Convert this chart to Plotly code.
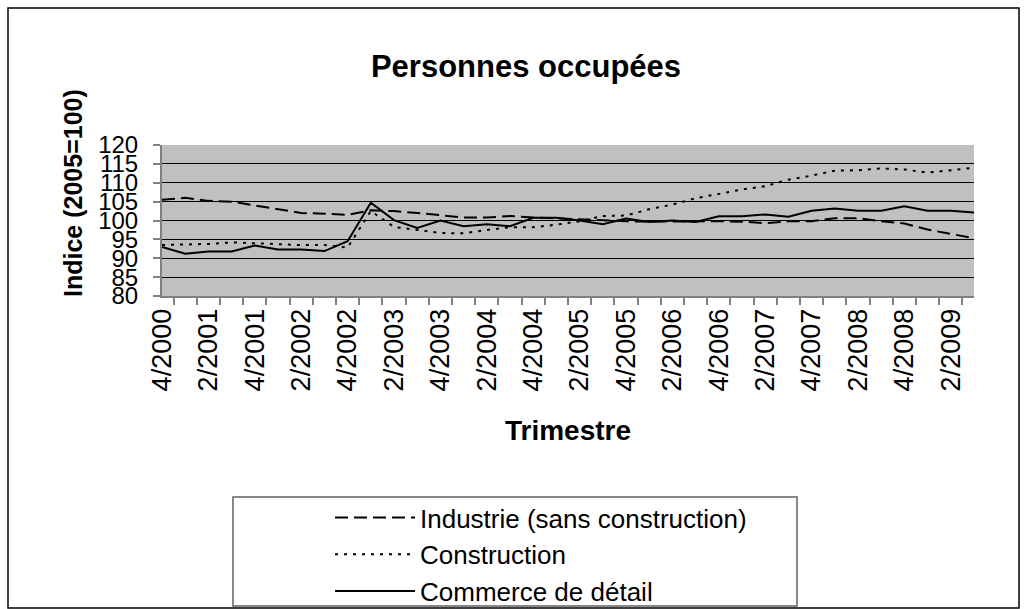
import plotly.graph_objects as go

quarters = ["4/2000",
            "1/2001", "2/2001", "3/2001", "4/2001",
            "1/2002", "2/2002", "3/2002", "4/2002",
            "1/2003", "2/2003", "3/2003", "4/2003",
            "1/2004", "2/2004", "3/2004", "4/2004",
            "1/2005", "2/2005", "3/2005", "4/2005",
            "1/2006", "2/2006", "3/2006", "4/2006",
            "1/2007", "2/2007", "3/2007", "4/2007",
            "1/2008", "2/2008", "3/2008", "4/2008",
            "1/2009", "2/2009", "3/2009"]

industrie = [105.5,
             106.0, 105.2, 105.0, 104.0,
             103.0, 102.0, 101.8, 101.5,
             102.7, 102.5, 102.0, 101.3,
             100.8, 100.8, 101.2, 100.8,
             100.5, 100.2, 100.0, 99.8,
             99.7, 99.8, 99.8, 99.8,
             99.7, 99.3, 99.8, 99.8,
             100.6, 100.6, 99.8, 99.2,
             97.6, 96.5, 95.3]

construction = [93.5,
                93.7, 93.8, 94.2, 94.0,
                93.8, 93.5, 93.5, 92.8,
                102.5, 98.3, 97.5, 96.7,
                96.6, 97.5, 98.2, 98.2,
                98.9, 99.8, 101.2, 101.3,
                103.0, 104.2, 105.9, 107.1,
                108.2, 109.1, 110.8, 111.9,
                113.2, 113.3, 113.8, 113.5,
                112.7, 113.3, 114.0]

commerce = [93.0,
            91.2, 91.8, 91.8, 93.4,
            92.3, 92.3, 91.9, 94.5,
            104.7, 100.1, 98.0, 100.0,
            98.5, 99.0, 98.5, 100.7,
            100.7, 100.0, 99.0, 100.5,
            99.6, 100.0, 99.6, 101.1,
            101.1, 101.6, 101.0, 102.6,
            103.2, 102.6, 102.6, 103.8,
            102.6, 102.6, 102.1]

y_ticks = [80, 85, 90, 95, 100, 105, 110, 115, 120]

FONT = "Arial, Liberation Sans, sans-serif"
W, H = 1027, 609
L, R, T, B = 162, 974, 145, 296  # plot area in pixels

tick_text = [q if i % 2 == 0 else "" for i, q in enumerate(quarters)]

fig = go.Figure()
fig.add_trace(go.Scatter(x=quarters, y=industrie, mode="lines",
                         name="Industrie (sans construction)",
                         line=dict(color="black", width=2, dash="13px,6px")))
fig.add_trace(go.Scatter(x=quarters, y=construction, mode="lines",
                         name="Construction",
                         line=dict(color="black", width=2, dash="3px,6px")))
fig.add_trace(go.Scatter(x=quarters, y=commerce, mode="lines",
                         name="Commerce de détail",
                         line=dict(color="black", width=2)))


def px_x(p):
    return (p - L) / (R - L)


def px_y(p):
    return (B - p) / (B - T)


fig.update_layout(
    width=W, height=H, autosize=False,
    margin=dict(l=L, r=W - R, t=T, b=H - B, pad=0, autoexpand=False),
    paper_bgcolor="white",
    plot_bgcolor="#C0C0C0",
    font=dict(family=FONT, color="black"),
    title=dict(text="<b>Personnes occupées</b>", font=dict(size=31, family=FONT),
               x=526 / W, xref="container", xanchor="center",
               y=1 - 66 / H, yref="container", yanchor="middle"),
    xaxis=dict(
        type="category", automargin=False,
        tickmode="array", tickvals=quarters, ticktext=tick_text,
        tickson="boundaries", ticks="outside", ticklen=7, tickcolor="#808080",
        tickwidth=1.5,
        tickangle=-90, tickfont=dict(size=27, family=FONT),
        showline=True, linecolor="#808080", linewidth=2,
        showgrid=False, zeroline=False,
        title=dict(text="<b>Trimestre</b>", font=dict(size=28, family=FONT), standoff=30),
    ),
    yaxis=dict(
        range=[80, 120], tickmode="array", tickvals=y_ticks, automargin=False,
        ticks="outside", ticklen=7, tickcolor="#808080", tickwidth=1.5,
        tickfont=dict(size=24, family=FONT), ticklabelstandoff=10,
        showline=True, linecolor="#808080", linewidth=2,
        showgrid=True, gridcolor="black", gridwidth=1,
        zeroline=False,
    ),
    legend=dict(
        x=px_x(330), y=px_y(494), xanchor="left", yanchor="top",
        bgcolor="rgba(0,0,0,0)", borderwidth=0,
        font=dict(size=26, family=FONT),
        itemwidth=80, tracegroupgap=0,
    ),
    showlegend=True,
)

# y-axis title (placed a little above the plot's centre, as in the reference)
fig.add_annotation(text="<b>Indice (2005=100)</b>", textangle=-90,
                   xref="paper", yref="paper", x=px_x(73), y=px_y(193),
                   xanchor="center", yanchor="middle", showarrow=False,
                   font=dict(size=25, family=FONT, color="black"))

# legend frame (wider than its contents, as in the reference)
fig.add_shape(type="rect", xref="paper", yref="paper",
              x0=px_x(233), x1=px_x(797), y0=px_y(606), y1=px_y(497),
              line=dict(color="#606060", width=1.5), fillcolor="white",
              layer="below")

# outer chart border
fig.add_shape(type="rect", xref="paper", yref="paper",
              x0=px_x(8), x1=px_x(1019), y0=px_y(608), y1=px_y(8),
              line=dict(color="black", width=1.5), fillcolor="rgba(0,0,0,0)",
              layer="below")

fig.write_html("out.html", config={"displayModeBar": False},
               post_script="document.body.style.margin='0';document.body.style.overflow='hidden';")
